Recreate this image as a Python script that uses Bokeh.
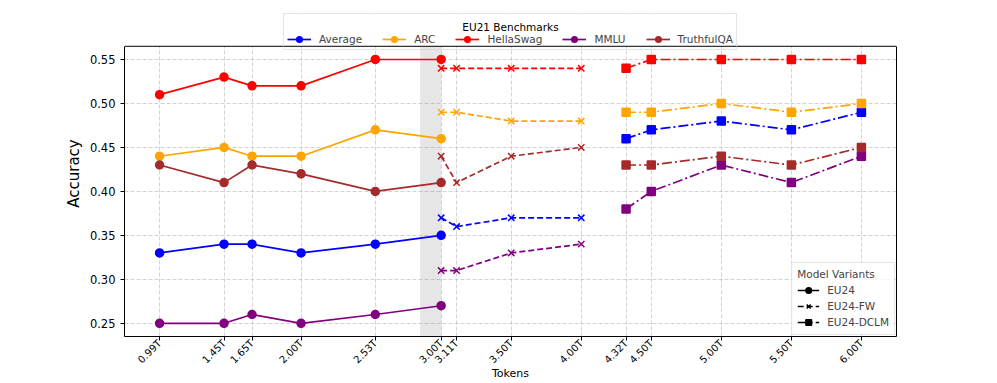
import numpy as np
from bokeh.plotting import figure
from bokeh.models import (Range1d, FixedTicker, PrintfTickFormatter, BoxAnnotation,
                          Legend, LegendItem, Label, LinearAxis, Span)
from bokeh.embed import file_html
from bokeh.resources import INLINE

# ---------------- data ----------------
benchmarks = ["Average", "ARC", "HellaSwag", "MMLU", "TruthfulQA"]
bench_colors = ["blue", "orange", "red", "purple", "brown"]

eu24_tokens = [0.99, 1.45, 1.65, 2.00, 2.53, 3.00]
eu24_average = [0.33, 0.34, 0.34, 0.33, 0.34, 0.35]
eu24_arc = [0.44, 0.45, 0.44, 0.44, 0.47, 0.46]
eu24_hellaswag = [0.51, 0.53, 0.52, 0.52, 0.55, 0.55]
eu24_mmlu = [0.25, 0.25, 0.26, 0.25, 0.26, 0.27]
eu24_truthfulqa = [0.43, 0.41, 0.43, 0.42, 0.40, 0.41]

fw_tokens = [3.00, 3.11, 3.50, 4.00]
fw_average = [0.37, 0.36, 0.37, 0.37]
fw_arc = [0.49, 0.49, 0.48, 0.48]
fw_hellaswag = [0.54, 0.54, 0.54, 0.54]
fw_mmlu = [0.31, 0.31, 0.33, 0.34]
fw_truthfulqa = [0.44, 0.41, 0.44, 0.45]

dclm_tokens = [4.32, 4.50, 5.00, 5.50, 6.00]
dclm_average = [0.46, 0.47, 0.48, 0.47, 0.49]
dclm_arc = [0.49, 0.49, 0.50, 0.49, 0.50]
dclm_hellaswag = [0.54, 0.55, 0.55, 0.55, 0.55]
dclm_mmlu = [0.38, 0.40, 0.43, 0.41, 0.44]
dclm_truthfulqa = [0.43, 0.43, 0.44, 0.43, 0.45]

x_ticks = [0.99, 1.45, 1.65, 2.00, 2.53, 3.00, 3.11, 3.50, 4.00, 4.32, 4.50, 5.00, 5.50, 6.00]
y_ticks = [0.25, 0.30, 0.35, 0.40, 0.45, 0.50, 0.55]
span_start, span_end = 2.85, 3.00

variants = ["EU24", "EU24-FW", "EU24-DCLM"]
variant_data = [
    (eu24_tokens, [eu24_average, eu24_arc, eu24_hellaswag, eu24_mmlu, eu24_truthfulqa]),
    (fw_tokens, [fw_average, fw_arc, fw_hellaswag, fw_mmlu, fw_truthfulqa]),
    (dclm_tokens, [dclm_average, dclm_arc, dclm_hellaswag, dclm_mmlu, dclm_truthfulqa]),
]
variant_dash = ["solid", "6 3", "10 3 2 3"]
variant_marker = ["circle", "x", "square"]
variant_msize = [8, 9, 8]

FONT = "DejaVu Sans"
X0, X1 = 0.7395, 6.2505          # axes x limits
Y0, Y1 = 0.235, 0.565            # axes y limits
Y_TOP = 0.6057                   # extra room above the axes for the top legend

# ---------------- figure ----------------
p = figure(width=997, height=383, output_backend="svg", toolbar_location=None,
           x_range=Range1d(X0, X1), y_range=Range1d(Y0, Y_TOP),
           min_border_left=124, min_border_right=101, min_border_top=10, min_border_bottom=45)
p.title.visible = False
p.outline_line_color = None
p.background_fill_color = "white"

p.xaxis.ticker = FixedTicker(ticks=x_ticks)
p.xaxis.formatter = PrintfTickFormatter(format="%.2fT")
p.xaxis.major_label_orientation = np.pi / 4
p.xaxis.major_label_standoff = 1
p.xaxis.axis_label = "Tokens"
p.xaxis.axis_label_text_font = FONT
p.xaxis.axis_label_text_font_size = "11px"
p.xaxis.axis_label_text_font_style = "normal"
p.xaxis.axis_label_standoff = -5
p.yaxis.ticker = FixedTicker(ticks=y_ticks)
p.yaxis.formatter = PrintfTickFormatter(format="%.2f")
p.yaxis.bounds = (Y0, Y1)
p.yaxis.axis_label = "Accuracy"
p.yaxis.axis_label_text_font = FONT
p.yaxis.axis_label_text_font_size = "15px"
p.yaxis.axis_label_text_font_style = "normal"
p.yaxis.axis_label_standoff = 4
for ax in (p.xaxis, p.yaxis):
    ax.axis_line_color = "black"
    ax.major_tick_line_color = "black"
    ax.major_tick_out = 4
    ax.major_tick_in = 0
    ax.minor_tick_line_color = None
    ax.major_label_text_font = FONT
    ax.major_label_text_color = "black"
    ax.axis_label_text_color = "black"
p.yaxis.major_label_text_font_size = "11.5px"
p.xaxis.major_label_text_font_size = "10px"

# right and top spines
right_axis = LinearAxis(bounds=(Y0, Y1), ticker=FixedTicker(ticks=[]),
                        major_tick_line_color=None, minor_tick_line_color=None,
                        major_label_text_font_size="0px", axis_line_color="black")
p.add_layout(right_axis, "right")
p.add_layout(Span(location=Y1, dimension="width", line_color="black", line_width=1))

p.grid.grid_line_color = "#b0b0b0"
p.grid.grid_line_alpha = 0.7
p.grid.grid_line_dash = "4 2"
p.grid.grid_line_width = 0.8

# hide grid above the axes area
p.add_layout(BoxAnnotation(bottom=Y1, fill_color="white", fill_alpha=1.0,
                           line_color=None, level="underlay"))
span = BoxAnnotation(left=span_start, right=span_end, bottom=Y0, top=Y1,
                     fill_color="gray", fill_alpha=0.2, line_color=None, level="underlay")
p.add_layout(span)

bench_items = []
for vi, (tokens, series) in enumerate(variant_data):
    for bi, vals in enumerate(series):
        c = bench_colors[bi]
        lr = p.line(tokens, vals, line_color=c, line_width=1.7, line_dash=variant_dash[vi])
        sr = p.scatter(tokens, vals, marker=variant_marker[vi], size=variant_msize[vi],
                       fill_color=c, line_color=c, line_width=1.5)
        if vi == 0:
            bench_items.append(LegendItem(label=benchmarks[bi], renderers=[lr, sr]))

variant_items = []
for vi, name in enumerate(variants):
    lr = p.line([np.nan], [np.nan], line_color="black", line_width=1.7, line_dash=variant_dash[vi])
    sr = p.scatter([np.nan], [np.nan], marker=variant_marker[vi], size=variant_msize[vi],
                   fill_color="black", line_color="black", line_width=1.5)
    variant_items.append(LegendItem(label=name, renderers=[lr, sr]))

legend1 = Legend(items=bench_items, orientation="horizontal", location=(159, 286),
                 title="\u00a0", title_text_font=FONT, title_text_font_size="10.5px",
                 title_standoff=3,
                 label_text_font=FONT, label_text_font_size="10.5px",
                 glyph_width=24, glyph_height=14, label_height=14, label_standoff=8,
                 spacing=20, padding=3, margin=0,
                 border_line_color="#cccccc", background_fill_color=None)
p.add_layout(legend1)

title_lbl = Label(x=(X0 + X1) / 2, y=0.5875, text="EU21 Benchmarks",
                  text_align="center", text_baseline="middle", level="overlay",
                  text_font=FONT, text_font_size="10.5px", text_color="black")
p.add_layout(title_lbl)

legend2 = Legend(items=variant_items, location="bottom_right",
                 title="Model Variants", title_text_font=FONT, title_text_font_size="10.5px",
                 title_text_font_style="normal", title_standoff=3,
                 label_text_font=FONT, label_text_font_size="10.5px",
                 glyph_width=22, glyph_height=14, label_height=14, label_standoff=8,
                 spacing=2, padding=5, margin=1,
                 border_line_color="#cccccc", background_fill_color="white",
                 background_fill_alpha=0.8)
p.add_layout(legend2)

open("out.html", "w").write(file_html(p, INLINE))
